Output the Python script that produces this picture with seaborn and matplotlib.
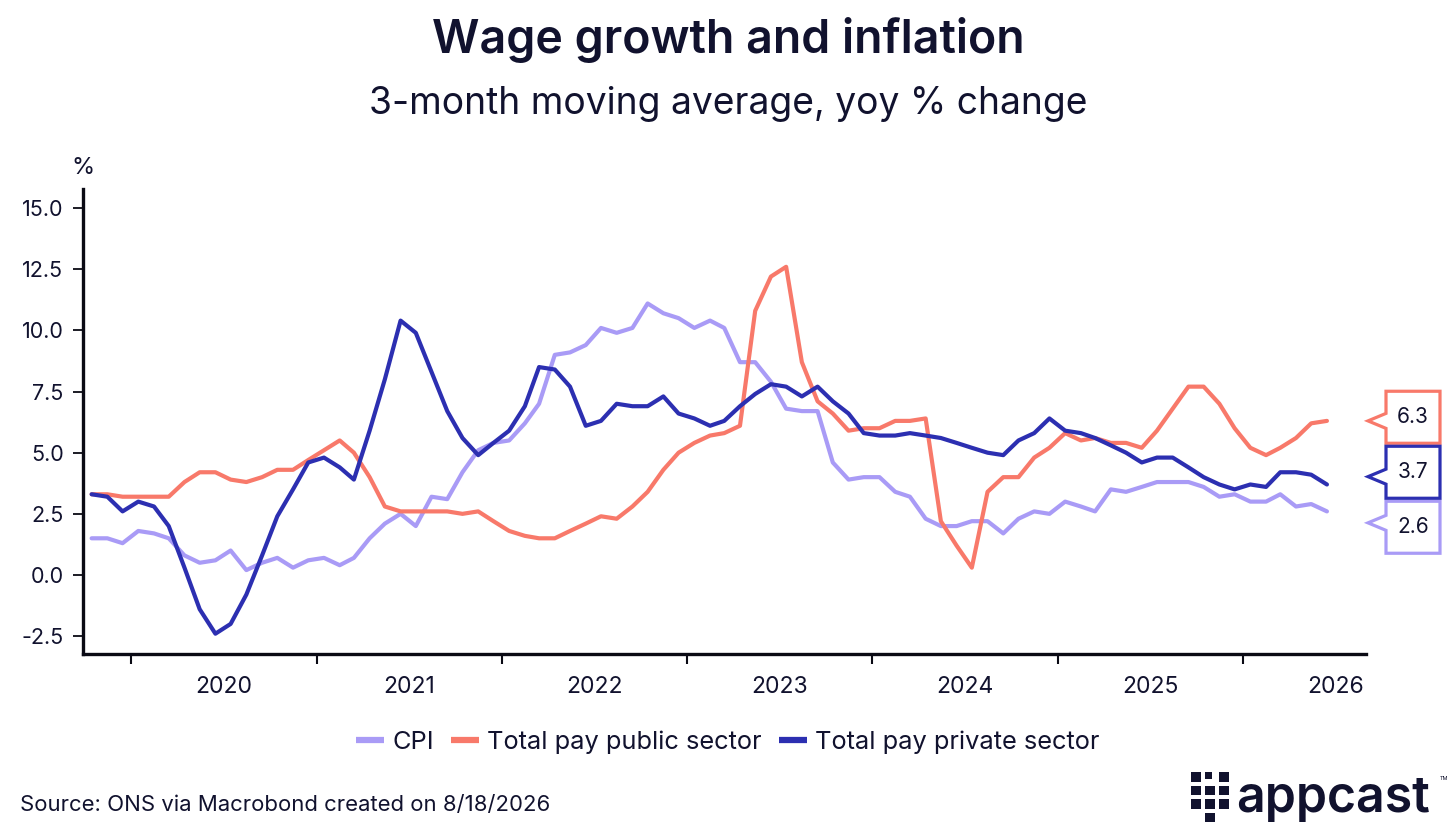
import numpy as np
import pandas as pd
import matplotlib
matplotlib.use("Agg")
import matplotlib.pyplot as plt
import matplotlib.dates as mdates
import matplotlib.transforms as mtransforms
from matplotlib.patches import Polygon, Rectangle
from matplotlib.lines import Line2D
from matplotlib.ticker import FixedLocator, FixedFormatter, NullFormatter
import seaborn as sns

# ---------------- data ----------------
start_month = "2019-10-01"
end_month = "2026-06-01"

cpi = [1.5, 1.5, 1.3,
       1.8, 1.7, 1.5, 0.8, 0.5, 0.6, 1.0, 0.2, 0.5, 0.7, 0.3, 0.6,
       0.7, 0.4, 0.7, 1.5, 2.1, 2.5, 2.0, 3.2, 3.1, 4.2, 5.1, 5.4,
       5.5, 6.2, 7.0, 9.0, 9.1, 9.4, 10.1, 9.9, 10.1, 11.1, 10.7, 10.5,
       10.1, 10.4, 10.1, 8.7, 8.7, 7.9, 6.8, 6.7, 6.7, 4.6, 3.9, 4.0,
       4.0, 3.4, 3.2, 2.3, 2.0, 2.0, 2.2, 2.2, 1.7, 2.3, 2.6, 2.5,
       3.0, 2.8, 2.6, 3.5, 3.4, 3.6, 3.8, 3.8, 3.8, 3.6, 3.2, 3.3,
       3.0, 3.0, 3.3, 2.8, 2.9, 2.6]

public_pay = [3.3, 3.3, 3.2,
              3.2, 3.2, 3.2, 3.8, 4.2, 4.2, 3.9, 3.8, 4.0, 4.3, 4.3, 4.7,
              5.1, 5.5, 5.0, 4.0, 2.8, 2.6, 2.6, 2.6, 2.6, 2.5, 2.6, 2.2,
              1.8, 1.6, 1.5, 1.5, 1.8, 2.1, 2.4, 2.3, 2.8, 3.4, 4.3, 5.0,
              5.4, 5.7, 5.8, 6.1, 10.8, 12.2, 12.6, 8.7, 7.1, 6.6, 5.9, 6.0,
              6.0, 6.3, 6.3, 6.4, 2.2, 1.2, 0.3, 3.4, 4.0, 4.0, 4.8, 5.2,
              5.8, 5.5, 5.6, 5.4, 5.4, 5.2, 5.9, 6.8, 7.7, 7.7, 7.0, 6.0,
              5.2, 4.9, 5.2, 5.6, 6.2, 6.3]

private_pay = [3.3, 3.2, 2.6,
               3.0, 2.8, 2.0, 0.3, -1.4, -2.4, -2.0, -0.8, 0.8, 2.4, 3.5, 4.6,
               4.8, 4.4, 3.9, 5.9, 8.0, 10.4, 9.9, 8.3, 6.7, 5.6, 4.9, 5.4,
               5.9, 6.9, 8.5, 8.4, 7.7, 6.1, 6.3, 7.0, 6.9, 6.9, 7.3, 6.6,
               6.4, 6.1, 6.3, 6.9, 7.4, 7.8, 7.7, 7.3, 7.7, 7.1, 6.6, 5.8,
               5.7, 5.7, 5.8, 5.7, 5.6, 5.4, 5.2, 5.0, 4.9, 5.5, 5.8, 6.4,
               5.9, 5.8, 5.6, 5.3, 5.0, 4.6, 4.8, 4.8, 4.4, 4.0, 3.7, 3.5,
               3.7, 3.6, 4.2, 4.2, 4.1, 3.7]

series_names = ["CPI", "Total pay public sector", "Total pay private sector"]
series_colors = ["#A99BF6", "#F8796A", "#2C2FB1"]
y_ticks = [-2.5, 0.0, 2.5, 5.0, 7.5, 10.0, 12.5, 15.0]
year_labels = [2020, 2021, 2022, 2023, 2024, 2025, 2026]

title = "Wage growth and inflation"
subtitle = "3-month moving average, yoy % change"
source = "Source: ONS via Macrobond created on 8/18/2026"
y_unit = "%"

TEXT = "#11122E"
AXIS = "#0A0A14"

# ---------------- style ----------------
sns.set_theme(style="white")
plt.rcParams["font.family"] = ["Inter", "DejaVu Sans"]

months = pd.date_range(start_month, end_month, freq="MS") + pd.Timedelta(days=14)
df = pd.DataFrame({
    "date": np.tile(months, 3),
    "value": cpi + public_pay + private_pay,
    "series": np.repeat(series_names, len(months)),
})

W, H = 1456, 840
fig = plt.figure(figsize=(W / 100, H / 100), dpi=100)
ax_left, ax_right, ax_top, ax_bottom = 83, 1366, 189, 654
ax = fig.add_axes([ax_left / W, 1 - ax_bottom / H,
                   (ax_right - ax_left) / W, (ax_bottom - ax_top) / H])

palette = dict(zip(series_names, series_colors))
sns.lineplot(data=df, x="date", y="value", hue="series", palette=palette,
             linewidth=3.0, ax=ax, legend=False)

ax.set_ylim(-3.23, 15.78)
ax.set_xlim(pd.Timestamp("2019-09-28"), pd.Timestamp("2026-08-31"))
ax.set_xlabel("")
ax.set_ylabel("")

# spines
for s in ["top", "right"]:
    ax.spines[s].set_visible(False)
for s in ["left", "bottom"]:
    ax.spines[s].set_linewidth(2.4)
    ax.spines[s].set_color(AXIS)

# y axis
ax.set_yticks(y_ticks)
ax.set_yticklabels([f"{t:.1f}" for t in y_ticks])
ax.tick_params(axis="y", length=7, width=1.3, color=AXIS, pad=7,
               labelsize=15.5, labelcolor=TEXT, left=True)

# x axis: year boundaries as tick marks, labels centred in each year
ax.xaxis.set_major_locator(FixedLocator(
    [mdates.date2num(pd.Timestamp(f"{y}-01-01")) for y in year_labels]))
ax.xaxis.set_major_formatter(NullFormatter())
ax.xaxis.set_minor_locator(FixedLocator(
    [mdates.date2num(pd.Timestamp(f"{y}-07-02")) for y in year_labels]))
ax.xaxis.set_minor_formatter(FixedFormatter([str(y) for y in year_labels]))
ax.tick_params(axis="x", which="major", length=7, width=1.5, color=AXIS,
               bottom=True)
ax.tick_params(axis="x", which="minor", length=0, pad=16, labelsize=16.5,
               labelcolor=TEXT, bottom=True)
ax.grid(False)

# ---------------- end-of-line callouts ----------------
last_vals = [cpi[-1], public_pay[-1], private_pay[-1]]
px_per_unit = (ax_bottom - ax_top) / (15.78 - (-3.23))
box_h = 52 / px_per_unit
gap = 3 / px_per_unit
step = box_h + gap

# cluster overlapping labels and spread them around each cluster's mean
order = sorted(range(3), key=lambda k: -last_vals[k])
clusters = [[k] for k in order]
changed = True
while changed:
    changed = False
    centers = []
    for c in clusters:
        m = np.mean([last_vals[k] for k in c])
        top = m + step * (len(c) - 1) / 2
        centers.append([top - step * j for j in range(len(c))])
    for ci in range(len(clusters) - 1):
        if centers[ci][-1] - centers[ci + 1][0] < step - 1e-9:
            clusters[ci] = clusters[ci] + clusters[ci + 1]
            del clusters[ci + 1]
            changed = True
            break
label_center = {}
for c in clusters:
    m = np.mean([last_vals[k] for k in c])
    top = m + step * (len(c) - 1) / 2
    for j, k in enumerate(c):
        label_center[k] = top - step * j

blend = mtransforms.blended_transform_factory(ax.transAxes, ax.transData)
for k in range(3):
    cy = label_center[k]
    tip_off = np.clip(last_vals[k] - cy, -0.18, 0.18) * px_per_unit
    bl, br, hh = 20, 74, 26
    verts_px = [(bl, hh), (br, hh), (br, -hh), (bl, -hh),
                (bl, tip_off - 7.5), (2, tip_off), (bl, tip_off + 7.5)]
    verts_in = [(x / 100, y / 100) for x, y in verts_px]
    trans = fig.dpi_scale_trans + mtransforms.ScaledTranslation(1.0, cy, blend)
    poly = Polygon(verts_in, closed=True, facecolor="white",
                   edgecolor=series_colors[k], linewidth=2.3,
                   transform=trans, clip_on=False, zorder=5,
                   joinstyle="miter")
    ax.add_patch(poly)
    ax.annotate(f"{last_vals[k]:.1f}", xy=(1.0, cy), xycoords=blend,
                xytext=((bl + br) / 2 * 0.72, 0), textcoords="offset points",
                ha="center", va="center", fontsize=15, color=TEXT,
                zorder=6, annotation_clip=False)

# ---------------- texts ----------------
fig.text(0.5, 1 - 40 / H, title, ha="center", va="center", fontsize=33.5,
         fontweight="semibold", color=TEXT)
fig.text(0.5, 1 - 104 / H, subtitle, ha="center", va="center", fontsize=26.8,
         color=TEXT)
fig.text(ax_left / W, 1 - 168 / H, y_unit, ha="center", va="center",
         fontsize=17, color=TEXT)
fig.text(20 / W, 1 - 805 / H, source, ha="left", va="center", fontsize=15.9,
         color=TEXT)

handles = [Line2D([0], [0], color=c, lw=4.5, solid_capstyle="butt")
           for c in series_colors]
fig.legend(handles, series_names, loc="center", bbox_to_anchor=(0.5, 1 - 742 / H),
           ncol=3, frameon=False, fontsize=18.3, handlelength=1.1,
           handletextpad=0.3, columnspacing=0.7, labelcolor=TEXT)

# ---------------- logo ----------------
sq = 9.5
logo_cells = [(0, 0), (0, 1), (0, 2), (1, 1), (1, 2), (1, 3), (2, 0), (2, 1), (2, 2), (1, 0)]
for col, row in logo_cells:
    x0 = 1191 + col * 14
    y0 = 772 + row * 13.5
    size = sq if not (col == 1 and row == 0) else 6.5
    fig.add_artist(Rectangle((x0 / W, 1 - (y0 + size) / H), size / W, size / H,
                             transform=fig.transFigure, facecolor=TEXT,
                             edgecolor="none"))
fig.text(1236 / W, 1 - 812 / H, "appcast", ha="left", va="baseline",
         fontsize=36, fontweight="semibold", color=TEXT)
fig.text(1440 / W, 1 - 778 / H, "TM", ha="left", va="center", fontsize=4,
         color=TEXT)

fig.savefig("out.png", dpi=100, facecolor="white")
